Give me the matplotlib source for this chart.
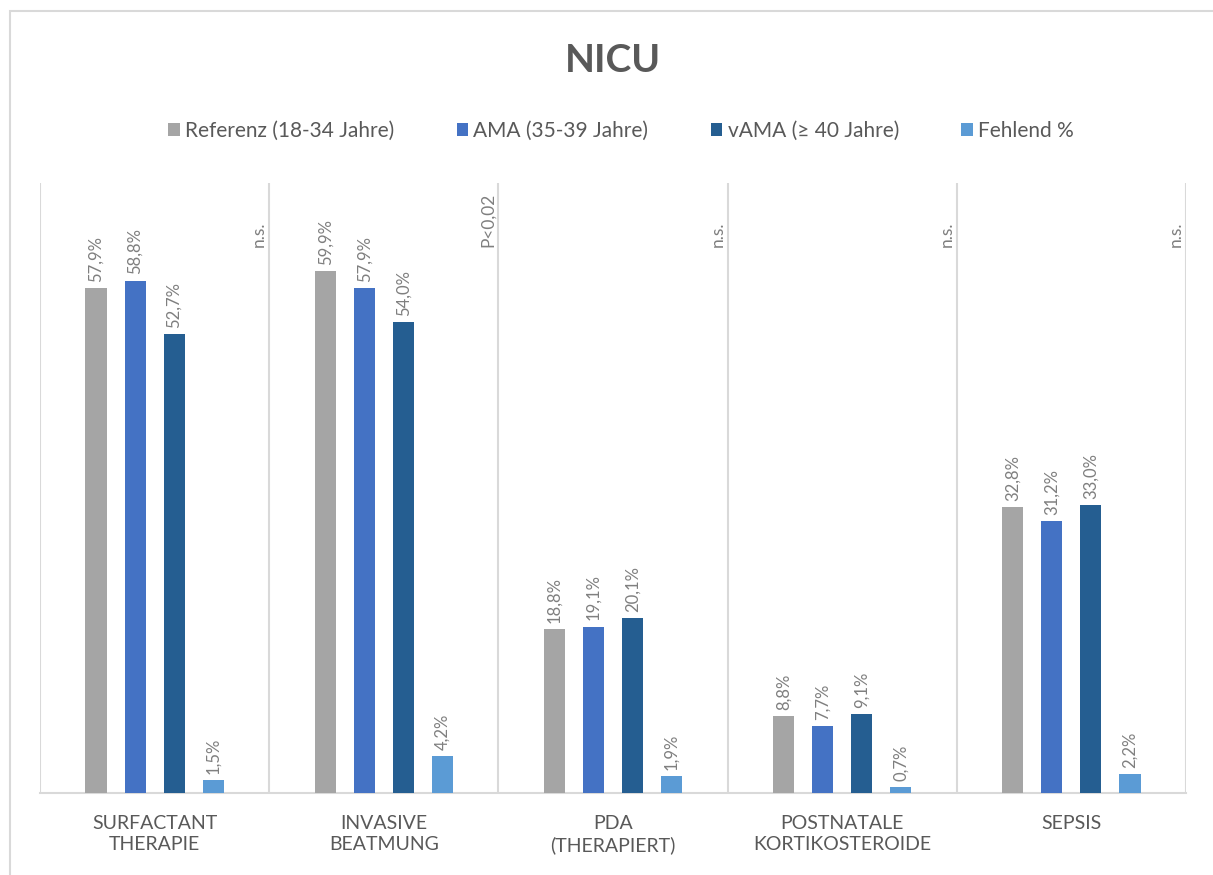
import matplotlib
matplotlib.use("Agg")
import matplotlib.pyplot as plt
import numpy as np
from matplotlib.patches import Rectangle

plt.rcParams['font.family'] = ['Lato', 'DejaVu Sans']

categories = ["SURFACTANT\nTHERAPIE", "INVASIVE\nBEATMUNG", "PDA\n(THERAPIERT)",
              "POSTNATALE\nKORTIKOSTEROIDE", "SEPSIS"]
series_names = ["Referenz (18-34 Jahre)", "AMA (35-39 Jahre)", "vAMA (≥ 40 Jahre)", "Fehlend %"]
referenz = [57.9, 59.9, 18.8, 8.8, 32.8]
ama = [58.8, 57.9, 19.1, 7.7, 31.2]
vama = [52.7, 54.0, 20.1, 9.1, 33.0]
fehlend = [1.5, 4.2, 1.9, 0.7, 2.2]
p_values = ["n.s.", "P<0,02", "n.s.", "n.s.", "n.s."]

colors = ["#A5A5A5", "#4472C4", "#255E91", "#5B9BD5"]
text_gray = "#595959"
label_gray = "#7F7F7F"
grid_gray = "#D9D9D9"

fig = plt.figure(figsize=(12.13, 8.75), dpi=100)
# outer chart border
fig.patches.append(Rectangle((10/1213, -0.05), 1.2, 1.05 - 11/875, transform=fig.transFigure,
                             fill=False, edgecolor="#D9D9D9", linewidth=1.5))

ax = fig.add_axes([40/1213, 82/875, (1186-40)/1213, (793-183)/875])
n = len(categories)
x = np.arange(n)
offsets = [-0.2555, -0.0852, 0.0852, 0.2555]
width = 0.092
all_series = [referenz, ama, vama, fehlend]

for s, (vals, col, name) in enumerate(zip(all_series, colors, series_names)):
    ax.bar(x + offsets[s], vals, width, color=col, label=name, zorder=3)
    for xi, v in zip(x + offsets[s], vals):
        ax.text(xi, v + 0.7, f"{v:.1f}%".replace(".", ","), rotation=90,
                ha="center", va="bottom", fontsize=12, color=label_gray)

ax.set_xlim(-0.5, n - 0.5)
ax.set_ylim(0, 70)
ax.set_yticks([])
ax.set_xticks(x)
ax.set_xticklabels(categories, fontsize=14, color=text_gray, linespacing=1.25)
ax.tick_params(axis="x", length=0, pad=16)
for sp in ["top", "right", "left"]:
    ax.spines[sp].set_visible(False)
ax.spines["bottom"].set_color(grid_gray)
ax.spines["bottom"].set_linewidth(1.5)

for b in np.arange(-0.5, n, 1.0):
    ax.axvline(b, color=grid_gray, linewidth=1.5, zorder=1)

for i, p in enumerate(p_values):
    ax.text(i + 0.5 - 0.045, 62.7, p, rotation=90, ha="center", va="bottom",
            fontsize=12.5, color=label_gray)

fig.text(0.505, 1 - 60/875, "NICU", ha="center", va="center", fontsize=28,
         fontweight="bold", color=text_gray)
leg = fig.legend(loc="center", bbox_to_anchor=(0.512, 1 - 131/875), ncol=4, frameon=False,
                 fontsize=15, handlelength=0.55, handleheight=0.55, handletextpad=0.25,
                 columnspacing=3.0)
for t in leg.get_texts():
    t.set_color(text_gray)

fig.savefig("out.png", dpi=100, facecolor="white")
